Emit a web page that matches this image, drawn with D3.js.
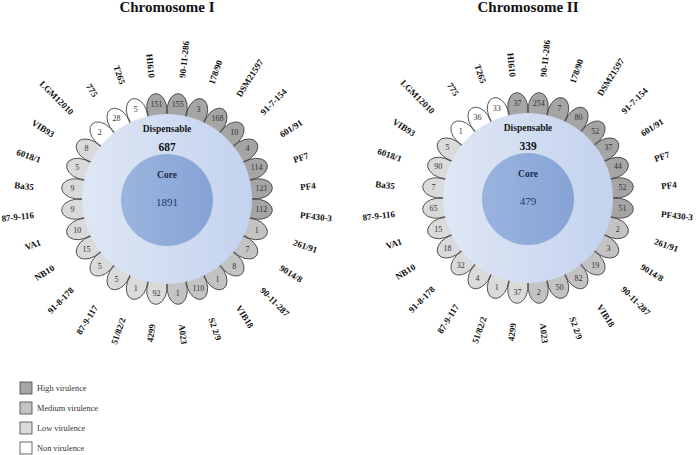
<!DOCTYPE html>
<html>
<head>
<meta charset="utf-8">
<script src="https://cdn.jsdelivr.net/npm/d3@7"></script>
<style>
	body { margin: 0; background: #ffffff; }
	svg { display: block; }
</style>
</head>
<body>
<script>
// strains clockwise from the top, same order for both chromosomes
var strains = ["HI610", "90-11-286", "178/90", "DSM21597", "91-7-154", "601/91", "PF7", "PF4", "PF430-3",
	"261/91", "9014/8", "90-11-287", "VIB18", "S2 2/9", "A023", "4299", "51/82/2", "87-9-117",
	"91-8-178", "NB10", "VA1", "87-9-116", "Ba35", "6018/1", "VIB93", "LGM12010", "775", "T265"];

var virulence = ["High", "High", "High", "High", "High", "High", "High", "High", "High",
	"Medium", "Medium", "Medium", "Medium", "Medium", "Medium", "Low", "Low", "Low",
	"Low", "Low", "Low", "Low", "Low", "Low", "Low", "Non", "Non", "Non"];

var chr1Values = [151, 155, 3, 168, 10, 4, 114, 121, 112, 1, 7, 8, 1, 110, 1, 92, 1, 5, 5, 15, 10, 9, 9, 5, 8, 2, 28, 5];
var chr2Values = [37, 254, 7, 80, 52, 37, 44, 52, 51, 2, 3, 19, 82, 50, 2, 37, 1, 4, 32, 18, 15, 65, 7, 90, 5, 1, 36, 33];

var chromosomes = ["Chromosome I", "Chromosome II"];
var dispensableCounts = [687, 339];
var coreCounts = [1891, 479];

var legendKeys = ["High", "Medium", "Low", "Non"];
var legendLabels = ["High virulence", "Medium virulence", "Low virulence", "Non virulence"];

var width = 696, height = 455;
var serif = "'Liberation Serif', 'Times New Roman', serif";

var svg = d3.select("body").append("svg")
	.attr("width", width)
	.attr("height", height)
	.attr("xmlns", "http://www.w3.org/2000/svg");

var defs = svg.append("defs");
var g1 = defs.append("linearGradient").attr("id", "diskGrad").attr("x1", "0%").attr("x2", "100%").attr("y1", "0%").attr("y2", "0%");
g1.append("stop").attr("offset", "0%").attr("stop-color", "#dfe7f5");
g1.append("stop").attr("offset", "100%").attr("stop-color", "#c3d2ee");
var g2 = defs.append("linearGradient").attr("id", "coreGrad").attr("x1", "0%").attr("x2", "100%").attr("y1", "0%").attr("y2", "0%");
g2.append("stop").attr("offset", "0%").attr("stop-color", "#9ab4de");
g2.append("stop").attr("offset", "100%").attr("stop-color", "#86a3d5");

var step = 2 * Math.PI / strains.length;
var angle = d3.scaleBand().domain(strains).range([-step, 2 * Math.PI - step]);
var color = d3.scaleOrdinal().domain(legendKeys).range(["#a5a5a5", "#c3c3c3", "#dadada", "#ffffff"]);

var centers = [[167, 199], [528, 198]];
var allValues = [chr1Values, chr2Values];

var diskR = 85, coreR = 46;
var petalR = 91, petalRx = 15, petalRy = 10, numR = 95;
var labRx = 134, labRy = 124, labDy = 2;

function mid(s){
	return angle(s) + angle.bandwidth() / 2;
}

for(var c = 0; c < chromosomes.length; c++){
	var cx = centers[c][0], cy = centers[c][1];
	var vals = allValues[c];
	var flower = svg.append("g").attr("transform", "translate(" + cx + "," + cy + ")");

	svg.append("text")
		.attr("x", cx)
		.attr("y", 12)
		.attr("text-anchor", "middle")
		.attr("font-family", serif)
		.attr("font-weight", "bold")
		.attr("font-size", "15px")
		.attr("fill", "#111")
		.text(chromosomes[c]);

	// petals
	for(var i = 0; i < strains.length; i++){
		var a = mid(strains[i]) * 180 / Math.PI;
		var p = flower.append("g").attr("transform", "rotate(" + a + ")");
		p.append("ellipse")
			.attr("cx", 0)
			.attr("cy", -petalR)
			.attr("rx", petalRy)
			.attr("ry", petalRx)
			.attr("fill", color(virulence[i]))
			.attr("stroke", "#3c3c3c")
			.attr("stroke-width", 0.8);
	}
	for(var i = 0; i < strains.length; i++){
		var t = mid(strains[i]);
		flower.append("text")
			.attr("x", numR * Math.sin(t))
			.attr("y", -numR * Math.cos(t))
			.attr("dy", "0.35em")
			.attr("text-anchor", "middle")
			.attr("font-family", serif)
			.attr("font-size", "8px")
			.attr("fill", "#333")
			.text(vals[i]);
	}

	flower.append("circle").attr("r", diskR).attr("fill", "url(#diskGrad)");
	flower.append("circle").attr("r", coreR).attr("cy", 1).attr("fill", "url(#coreGrad)");

	flower.append("text").attr("y", -67).attr("text-anchor", "middle")
		.attr("font-family", serif).attr("font-weight", "bold").attr("font-size", "9.5px").attr("fill", "#151515")
		.text("Dispensable");
	flower.append("text").attr("y", -48).attr("text-anchor", "middle")
		.attr("font-family", serif).attr("font-weight", "bold").attr("font-size", "11.5px").attr("fill", "#151515")
		.text(dispensableCounts[c]);
	flower.append("text").attr("y", -21).attr("text-anchor", "middle")
		.attr("font-family", serif).attr("font-weight", "bold").attr("font-size", "9.5px").attr("fill", "#1c2a48")
		.text("Core");
	flower.append("text").attr("y", 7).attr("text-anchor", "middle")
		.attr("font-family", serif).attr("font-size", "11px").attr("fill", "#1f3864")
		.text(coreCounts[c]);

	// strain labels around the flower
	for(var i = 0; i < strains.length; i++){
		var t = mid(strains[i]);
		var deg = t * 180 / Math.PI;
		var lx = labRx * Math.sin(t);
		var ly = labDy - labRy * Math.cos(t);
		var right = Math.sin(t) >= 0;
		flower.append("text")
			.attr("transform", "translate(" + lx + "," + ly + ") rotate(" + (right ? deg - 90 : deg + 90) + ")")
			.attr("dy", "0.35em")
			.attr("text-anchor", right ? "start" : "end")
			.attr("font-family", serif)
			.attr("font-weight", "bold")
			.attr("font-size", "9px")
			.attr("fill", "#111")
			.text(strains[i]);
	}
}

// legend
var legend = svg.append("g");
for(var i = 0; i < legendKeys.length; i++){
	legend.append("rect")
		.attr("x", 20)
		.attr("y", 382 + i * 20)
		.attr("width", 12)
		.attr("height", 12)
		.attr("fill", color(legendKeys[i]))
		.attr("stroke", "#444")
		.attr("stroke-width", 0.8);
	legend.append("text")
		.attr("x", 37)
		.attr("y", 388 + i * 20)
		.attr("dy", "0.35em")
		.attr("font-family", serif)
		.attr("font-size", "8.3px")
		.attr("fill", "#333")
		.text(legendLabels[i]);
}
</script>
</body>
</html>
